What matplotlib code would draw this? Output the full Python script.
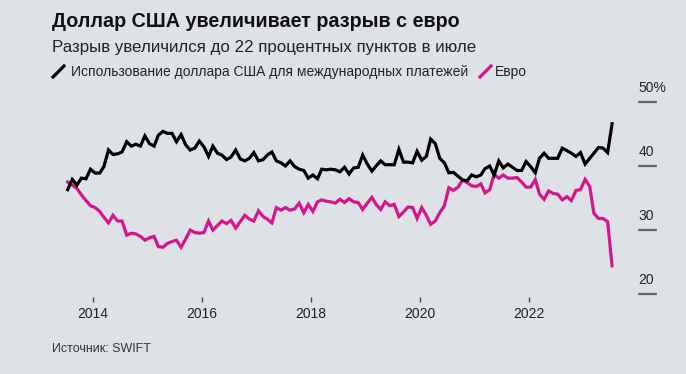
import matplotlib
matplotlib.use("Agg")
import matplotlib.pyplot as plt
import matplotlib.dates as mdates
from matplotlib.lines import Line2D
import pandas as pd
import datetime as dt

plt.rcParams['font.family'] = ['Liberation Sans', 'DejaVu Sans']

# ---------------- data ----------------
start_month = "2013-07-01"
n_months = 121

usd = [36.3, 37.9, 37.0, 38.1, 38.0, 39.5, 38.9, 38.9, 39.9, 42.5,
       41.8, 41.9, 42.2, 43.8, 43.1, 43.4, 43.1, 44.7, 43.5, 43.1,
       44.8, 45.4, 45.1, 45.1, 43.8, 44.9, 43.3, 42.5, 42.8, 43.9,
       43.0, 41.5, 43.1, 42.0, 41.7, 41.0, 41.4, 42.5, 41.1, 40.8,
       41.2, 42.1, 40.8, 41.0, 41.7, 42.2, 40.8, 40.5, 40.0, 40.8,
       39.9, 39.5, 39.3, 38.1, 38.6, 38.0, 39.5, 39.4, 39.5, 39.4,
       39.1, 39.8, 38.75, 39.7, 39.8, 41.7, 40.3, 39.2, 40.0, 40.8,
       40.2, 40.2, 40.2, 42.6, 40.6, 40.6, 40.5, 42.3, 40.9, 41.5,
       44.2, 43.5, 41.2, 40.5, 38.95, 39.0, 38.4, 37.8, 37.7, 38.6,
       38.3, 38.6, 39.6, 40.0, 38.6, 40.8, 39.7, 40.3, 39.8, 39.3,
       39.3, 40.7, 39.9, 38.95, 41.2, 42.0, 41.2, 41.2, 41.2, 42.8,
       42.4, 42.0, 41.5, 42.1, 40.3, 41.2, 42.0, 42.9, 42.8, 42.1,
       46.6]

eur = [37.5, 37.0, 36.5, 35.5, 34.6, 33.8, 33.5, 32.9, 32.0, 31.1,
       32.3, 31.4, 31.4, 29.2, 29.5, 29.4, 29.0, 28.4, 28.8, 29.0,
       27.4, 27.3, 27.9, 28.2, 28.4, 27.3, 28.6, 30.0, 29.6, 29.5,
       29.6, 31.4, 30.0, 30.7, 31.4, 31.0, 31.5, 30.3, 31.3, 32.3,
       31.7, 31.4, 33.0, 32.1, 31.7, 31.1, 33.5, 33.1, 33.5, 33.1,
       33.3, 34.2, 32.7, 34.0, 32.9, 34.4, 34.7, 34.5, 34.4, 34.2,
       34.8, 34.3, 34.9, 34.4, 34.3, 33.2, 34.2, 35.1, 34.0, 33.2,
       34.4, 33.8, 34.0, 32.1, 32.8, 33.6, 33.5, 31.8, 33.5, 32.3,
       30.9, 31.4, 32.7, 33.8, 36.6, 36.2, 36.7, 37.8, 37.4, 36.9,
       36.8, 37.2, 35.8, 36.3, 38.7, 38.1, 38.6, 38.1, 38.1, 38.2,
       37.5, 36.7, 36.7, 37.9, 35.6, 34.8, 36.1, 35.7, 35.6, 34.7,
       35.2, 34.6, 36.2, 36.3, 37.9, 36.8, 32.6, 31.8, 31.8, 31.3,
       24.4]

y_ticks = [20, 30, 40, 50]
y_tick_labels = ["20", "30", "40", "50%"]
x_tick_years = [2014, 2016, 2018, 2020, 2022]

title = "Доллар США увеличивает разрыв с евро"
subtitle = "Разрыв увеличился до 22 процентных пунктов в июле"
legend_usd = "Использование доллара США для международных платежей"
legend_eur = "Евро"
source = "Источник: SWIFT"

# ---------------- style ----------------
W, H = 686, 374
BG = "#dee2e7"
BLACK = "#000000"
PINK = "#d4168c"
GRAY = "#666666"

dates = pd.date_range(start=start_month, periods=n_months, freq="MS") + pd.Timedelta(days=14)

fig = plt.figure(figsize=(W / 100, H / 100), dpi=100)
fig.patch.set_facecolor(BG)

left_px, right_px = 65, 638
top_px, bottom_px = 102, 294
ax = fig.add_axes([left_px / W, 1 - bottom_px / H,
                   (right_px - left_px) / W, (bottom_px - top_px) / H])
ax.set_facecolor(BG)

ax.plot(dates, usd, color=BLACK, lw=2.3, solid_joinstyle="miter", zorder=3)
ax.plot(dates, eur, color=PINK, lw=2.3, solid_joinstyle="miter", zorder=2)

# x scale: 2014-01-01 at x=93 px, 54.45 px per year
px_per_day = 54.45 / 365.25
ref = mdates.date2num(dt.datetime(2014, 1, 1))
ax.set_xlim(ref - (93 - left_px) / px_per_day, ref + (right_px - 93) / px_per_day)
ax.set_ylim(20, 50)

for s in ax.spines.values():
    s.set_visible(False)

ax.set_xticks([mdates.date2num(dt.datetime(y, 1, 1)) for y in x_tick_years])
ax.set_xticklabels([str(y) for y in x_tick_years])
ax.tick_params(axis="x", direction="out", length=3.5, width=1.0, color="#444444",
               pad=4, labelsize=10, labelcolor="#222222")
ax.spines["bottom"].set_position(("outward", 2))

ax.yaxis.tick_right()
ax.set_yticks(y_ticks)
ax.tick_params(axis="y", direction="out", length=13.7, width=1.6, color=GRAY,
               labelright=False, labelleft=False, pad=0)
for v, lab in zip(y_ticks, y_tick_labels):
    ax.annotate(lab, xy=(1.0, v), xycoords=("axes fraction", "data"),
                xytext=(0.5, 10), textcoords="offset points",
                ha="left", va="center", fontsize=10, color="#222222")

# ---------------- header / legend / source ----------------
x0 = 52 / W
fig.text(x0, 1 - 27 / H, title, fontsize=14.2, fontweight="bold", color="#111111",
         va="baseline", ha="left")
fig.text(x0, 1 - 52 / H, subtitle, fontsize=12.2, color="#222222",
         va="baseline", ha="left")

fig.add_artist(Line2D([53 / W, 64 / W], [1 - 77 / H, 1 - 66 / H],
                      color=BLACK, lw=2.3, transform=fig.transFigure))
fig.text(71 / W, 1 - 76 / H, legend_usd, fontsize=10, color="#222222",
         va="baseline", ha="left")
fig.add_artist(Line2D([480 / W, 491 / W], [1 - 77 / H, 1 - 66 / H],
                      color=PINK, lw=2.3, transform=fig.transFigure))
fig.text(495 / W, 1 - 76 / H, legend_eur, fontsize=10, color="#222222",
         va="baseline", ha="left")

fig.text(x0, 1 - 352 / H, source, fontsize=9, color="#333333",
         va="baseline", ha="left")

fig.savefig("out.png", dpi=100, facecolor=BG)
